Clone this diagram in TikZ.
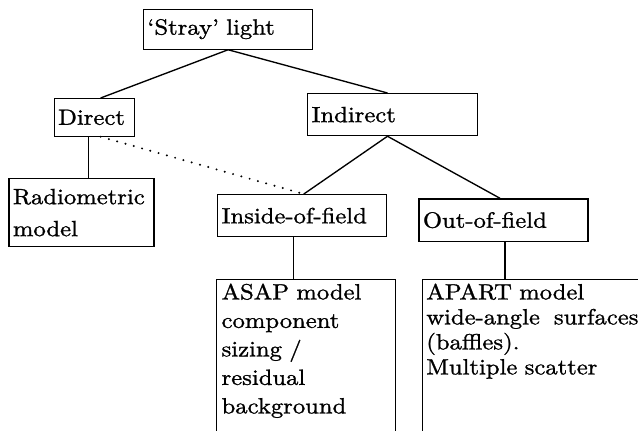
\documentclass[tikz,border=0pt]{standalone}
\usepackage{fontspec}
\setmainfont{lmroman10-regular}[Extension=.otf, FakeStretch=1.12, FakeBold=1.2]
\usetikzlibrary{calc}
\tikzset{
  box/.style={draw, line width=1.25pt, anchor=north west, align=left,
    inner xsep=4pt, inner ysep=0pt, font=\fontsize{22}{28.5}\selectfont},
  link/.style={line width=1.35pt},
  dotlink/.style={line width=2.2pt, line cap=round, dash pattern=on 0pt off 8.6pt},
}
\begin{document}
\begin{tikzpicture}[x=1pt, y=-1pt]
  \useasboundingbox (0,0) rectangle (638,431);
  \clip (0,0) rectangle (638,431);

  % tree of boxes
  \node[box, minimum width=169pt, text width=161pt, minimum height=40pt] (stray) at (143,8.5) {`Stray' light};
  \node[box, minimum width=80pt, text width=72pt, minimum height=37.5pt] (direct) at (53.5,98) {Direct};
  \node[box, minimum width=170pt, text width=162pt, minimum height=42pt] (indirect) at (307,93) {Indirect};
  \node[box, minimum width=145pt, text width=137pt, minimum height=68pt, inner xsep=3pt,
        font=\fontsize{22}{32}\selectfont] (radio) at (8.3,178) {Radiometric\\model};
  \node[box, minimum width=169pt, text width=161pt, minimum height=42pt, inner xsep=3pt] (inside) at (217,194) {Inside-of-field};
  \node[box, minimum width=169pt, text width=161pt, minimum height=42.5pt] (out) at (418.3,198.3) {Out-of-field};
  \node[box, minimum width=177pt, text width=169pt, inner ysep=4pt, text depth=150pt,
        inner xsep=5pt] (asap) at (216,279)
        {ASAP model\\component\\sizing /\\residual\\background};
  \node[box, minimum width=240pt, text width=232pt, inner ysep=4pt, text depth=150pt,
        inner xsep=3.5pt, font=\fontsize{22}{25}\selectfont] (apart) at (421.7,279)
        {APART model\\wide-angle\hspace*{14pt}surfaces\\(baffles).\\Multiple scatter};

  % attachment points on the box edges
  \coordinate (dTop) at ($(direct.north west)!0.58!(direct.north east)$);
  \coordinate (dBot) at ($(direct.south west)!0.43!(direct.south east)$);
  \coordinate (dDot) at ($(direct.south west)!0.58!(direct.south east)$);
  \coordinate (iTop) at ($(indirect.north west)!0.47!(indirect.north east)$);
  \coordinate (iBot) at ($(indirect.south west)!0.47!(indirect.south east)$);
  \coordinate (inTop) at ($(inside.north west)!0.51!(inside.north east)$);
  \coordinate (inBot) at ($(inside.south west)!0.45!(inside.south east)$);
  \coordinate (oTop) at ($(out.north west)!0.48!(out.north east)$);
  \coordinate (oBot) at ($(out.south west)!0.51!(out.south east)$);

  % connectors
  \draw[link] (stray.south) -- (dTop);
  \draw[link] (stray.south) -- (iTop);
  \draw[link] (dBot) -- (dBot |- radio.north);
  \draw[dotlink] (dDot) -- (inTop);
  \draw[link] (iBot) -- (inTop);
  \draw[link] (iBot) -- (oTop);
  \draw[link] (inBot) -- (inBot |- asap.north);
  \draw[link] (oBot) -- (oBot |- apart.north);
\end{tikzpicture}
\end{document}
